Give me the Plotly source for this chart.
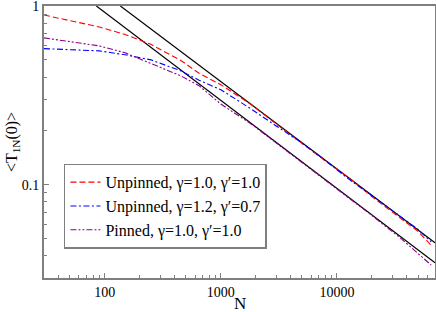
import plotly.graph_objects as go

# ---- data ----
N = [30, 40, 60, 90, 150, 250, 450, 650, 1000, 1800, 3000, 5000, 8000,
     13000, 20000, 35000, 50000, 65000]

unpinned_10_10 = [0.890, 0.856, 0.814, 0.763, 0.693, 0.610, 0.497, 0.420,
                  0.3627, 0.2825, 0.2186, 0.1703, 0.1352, 0.1080, 0.0857,
                  0.0651, 0.0547, 0.0457]
unpinned_12_07 = [0.577, 0.572, 0.568, 0.561, 0.533, 0.4995, 0.434, 0.384,
                  0.340, 0.2667, 0.2131, 0.1713, 0.1360, 0.1059, 0.0868,
                  0.0663, 0.0561, 0.0478]
pinned_10_10 = [0.6627, 0.6457, 0.6255, 0.598, 0.5467, 0.4748, 0.4071,
                0.358, 0.2825, 0.220, 0.1713, 0.1334, 0.1059, 0.0836,
                0.0672, 0.0504, 0.0413, 0.0354]

# power-law guide lines (end points)
fitA_N = [84.8, 70000]
fitA_y = [1.0, 0.0365]
fitB_N = [136.5, 70000]
fitB_y = [1.0, 0.0473]

labels = ["Unpinned, γ=1.0, γ′=1.0",
          "Unpinned, γ=1.2, γ′=0.7",
          "Pinned, γ=1.0, γ′=1.0"]

FONT = "Liberation Serif, Times New Roman, serif"
GRAY = "#7f7f7f"

fig = go.Figure()
fig.add_trace(go.Scatter(x=fitA_N, y=fitA_y, mode="lines", showlegend=False,
                         line=dict(color="black", width=1.2)))
fig.add_trace(go.Scatter(x=fitB_N, y=fitB_y, mode="lines", showlegend=False,
                         line=dict(color="black", width=1.2)))
fig.add_trace(go.Scatter(x=N, y=unpinned_10_10, mode="lines", name=labels[0],
                         legendgroup="a",
                         line=dict(color="#ff0000", width=1.1, dash="6px,3px")))
fig.add_trace(go.Scatter(x=N, y=unpinned_12_07, mode="lines", name=labels[1],
                         legendgroup="b",
                         line=dict(color="#0000ff", width=1.1,
                                   dash="6px,2.5px,2px,2.5px")))
fig.add_trace(go.Scatter(x=N, y=pinned_10_10, mode="lines", name=labels[2],
                         legendgroup="c",
                         line=dict(color="#8b008b", width=1.1,
                                   dash="6px,2px,2px,2px,2px,2px")))

axis_common = dict(type="log", showgrid=False, zeroline=False, automargin=False,
                   showline=True, linecolor=GRAY, linewidth=2, mirror=True,
                   ticks="inside", ticklen=5, tickwidth=1, tickcolor=GRAY,
                   ticklabeloverflow="allow",
                   tickfont=dict(family=FONT, size=14, color="black"))

fig.update_xaxes(**axis_common,
                 range=[1.4771, 4.8451],
                 tickvals=[100, 1000, 10000], ticktext=["100", "1000", "10000"],
                 minor=dict(ticks="inside", ticklen=3, tickcolor=GRAY,
                            dtick="D1", showgrid=False))
fig.update_yaxes(**axis_common,
                 range=[-1.5229, 0],
                 tickvals=[0.1, 1], ticktext=["0.1", "1"],
                 minor=dict(ticks="inside", ticklen=3, tickcolor=GRAY,
                            dtick="D1", showgrid=False),
                 title=dict(text="&lt;T<sub>1N</sub>(0)&gt;",
                            font=dict(family=FONT, size=16, color="black"),
                            standoff=0))

fig.add_annotation(text="N", xref="paper", yref="paper", x=0.5, y=0,
                   xanchor="center", yanchor="middle", yshift=-25,
                   showarrow=False,
                   font=dict(family=FONT, size=17, color="black"))

fig.update_layout(
    width=436, height=312,
    margin=dict(l=44, r=1, t=6, b=34),
    paper_bgcolor="white", plot_bgcolor="white",
    font=dict(family=FONT, color="black"),
    legend=dict(x=0.051, y=0.42, xanchor="left", yanchor="top",
                bgcolor="white", bordercolor=GRAY, borderwidth=1.5,
                font=dict(family=FONT, size=16, color="black"),
                tracegroupgap=0),
)

fig.write_html("out.html",
               config={"displayModeBar": False},
               post_script="document.body.style.margin='0';"
                           "document.body.style.overflow='hidden';")
